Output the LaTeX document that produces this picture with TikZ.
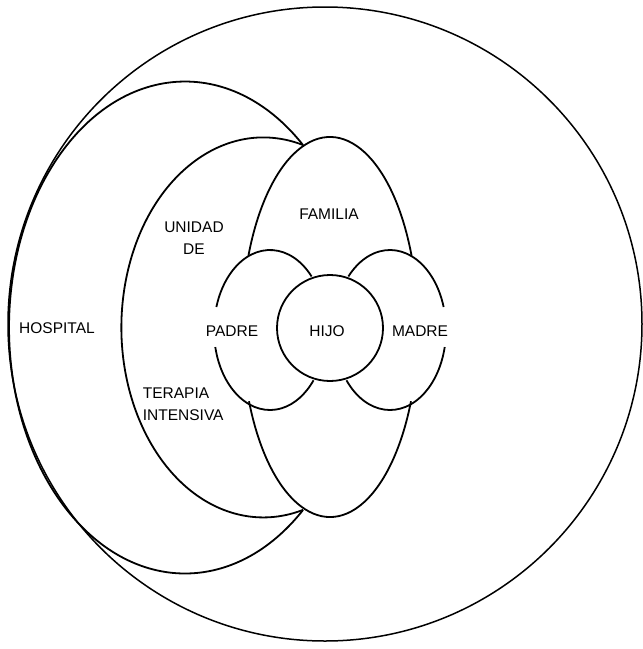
\documentclass[tikz,border=0pt]{standalone}
\usepackage{fontspec}
\setmainfont{Liberation Sans}
\begin{document}
\begin{tikzpicture}[x=1pt, y=1pt, line width=1.8pt,
  lbl/.style={font=\fontsize{15.5}{22}\selectfont, inner sep=0pt}]
\useasboundingbox (0,0) rectangle (643,-649);
% centres and the point where the crescents meet
\coordinate (meetTop) at (303,-145);
\coordinate (ctrFam) at (330,-327);
\coordinate (ctrHijo) at (330,-328);
\coordinate (ctrPadre) at (270,-330);
\coordinate (ctrMadre) at (390,-330);
% outer ring
\draw[line width=1.5pt] (325,-324) circle[radius=317];
% hospital and unidad crescents
\draw (meetTop) arc[start angle=47.9, end angle=312.1, x radius=176, y radius=246];
\draw (meetTop) arc[start angle=73.8, end angle=286.2, x radius=142, y radius=190];
% familia
\draw (ctrFam) ++(22:88 and 190) arc[start angle=22, end angle=158, x radius=88, y radius=190];
\draw (ctrFam) ++(203:88 and 190) arc[start angle=203, end angle=337, x radius=88, y radius=190];
% padre, hijo, madre
\draw (ctrPadre) ++(42:56 and 80) arc[start angle=42, end angle=163.3, x radius=56, y radius=80];
\draw (ctrPadre) ++(192.3:56 and 80) arc[start angle=192.3, end angle=321, x radius=56, y radius=80];
\draw (ctrMadre) ++(16.7:56 and 80) arc[start angle=16.7, end angle=138, x radius=56, y radius=80];
\draw (ctrMadre) ++(219:56 and 80) arc[start angle=219, end angle=347.7, x radius=56, y radius=80];
\draw (ctrHijo) circle[radius=53];
% labels
\node[lbl] (hospital) at (57,-328) {HOSPITAL};
\node[lbl, align=center] (unidad) at (194,-238) {UNIDAD\\DE};
\node[lbl, align=left, anchor=west] (terapia) at (142,-404) {TERAPIA\\INTENSIVA};
\node[lbl] (familia) at (329,-214) {FAMILIA};
\node[lbl] (padre) at (232,-331) {PADRE};
\node[lbl] (hijo) at (327,-331) {HIJO};
\node[lbl] (madre) at (420,-331) {MADRE};
\end{tikzpicture}
\end{document}
